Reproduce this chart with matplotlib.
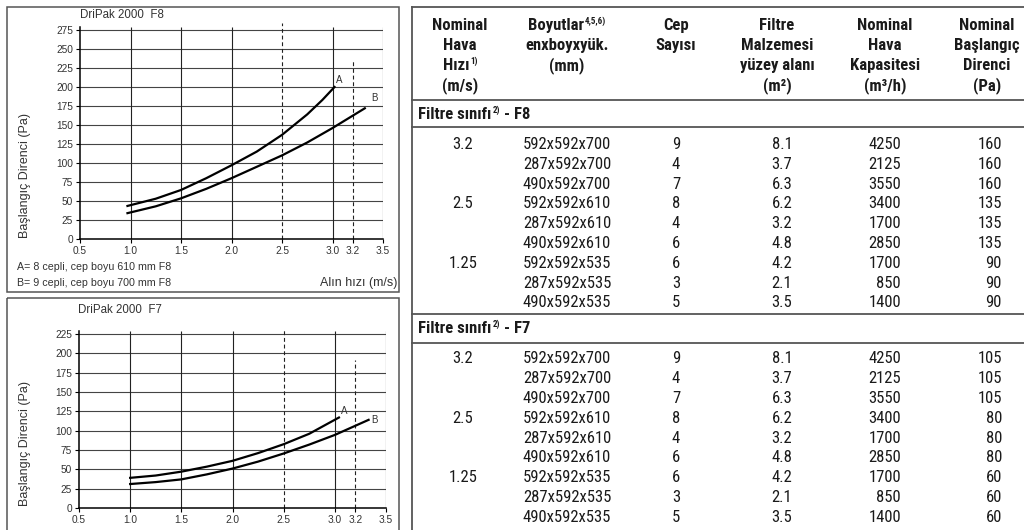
import matplotlib
matplotlib.use("Agg")
import matplotlib.pyplot as plt
import matplotlib.font_manager as fm
from matplotlib.patches import Rectangle


W, H = 1024, 530

# --- chart data ---
x_ticks = [0.5, 1.0, 1.5, 2.0, 2.5, 3.0, 3.2, 3.5]
x_tick_labels = ["0.5", "1.0", "1.5", "2.0", "2.5", "3.0", "3.2", "3.5"]

f8_yticks = list(range(0, 276, 25))
f8_a_x = [0.97, 1.25, 1.5, 1.75, 2.0, 2.25, 2.5, 2.75, 2.9, 3.02]
f8_a_y = [43.5, 53, 64.5, 80, 97, 115, 137, 164, 183, 200]
f8_b_x = [0.97, 1.25, 1.5, 1.75, 2.0, 2.25, 2.5, 2.75, 3.0, 3.32]
f8_b_y = [34, 43, 53.5, 66, 80, 95, 110, 127, 146, 172]

f7_yticks = list(range(0, 226, 25))
f7_a_x = [1.0, 1.25, 1.5, 1.75, 2.0, 2.25, 2.5, 2.75, 3.04]
f7_a_y = [39, 42, 47, 53.5, 61, 71, 82.5, 96, 117]
f7_b_x = [1.0, 1.25, 1.5, 1.75, 2.0, 2.25, 2.5, 2.75, 3.0, 3.33]
f7_b_y = [31, 33.5, 37, 43.5, 51, 60, 70.5, 82, 94.5, 114]

# --- table data ---
# (text, superscript) per header line
headers = [
    [("Nominal", ""), ("Hava", ""), ("Hızı", "1)"), ("(m/s)", "")],
    [("Boyutlar", "4,5,6)"), ("enxboyxyük.", ""), ("(mm)", "")],
    [("Cep", ""), ("Sayısı", "")],
    [("Filtre", ""), ("Malzemesi", ""), ("yüzey alanı", ""), ("(m²)", "")],
    [("Nominal", ""), ("Hava", ""), ("Kapasitesi", ""), ("(m³/h)", "")],
    [("Nominal", ""), ("Başlangıç", ""), ("Direnci", ""), ("(Pa)", "")],
]
hiz = ["3.2", "", "", "2.5", "", "", "1.25", "", ""]
boyut = ["592x592x700", "287x592x700", "490x592x700",
         "592x592x610", "287x592x610", "490x592x610",
         "592x592x535", "287x592x535", "490x592x535"]
cep = [9, 4, 7, 8, 4, 6, 6, 3, 5]
alan = [8.1, 3.7, 6.3, 6.2, 3.2, 4.8, 4.2, 2.1, 3.5]
kapasite = [4250, 2125, 3550, 3400, 1700, 2850, 1700, 850, 1400]
direnc_f8 = [160, 160, 160, 135, 135, 135, 90, 90, 90]
direnc_f7 = [105, 105, 105, 80, 80, 80, 60, 60, 60]


def pick_narrow():
    # look for a condensed sans face for the table
    entries = fm.fontManager.ttflist
    names = {f.name for f in entries}
    for n in ["Liberation Sans Narrow", "Roboto Condensed", "Open Sans Condensed",
              "Noto Sans Condensed", "DejaVu Sans Condensed"]:
        if n in names:
            return n, "normal"
    for f in entries:
        if "condensed" in str(f.stretch) or "Narrow" in f.name or "Condensed" in f.name:
            return f.name, f.stretch
    return "Liberation Sans", "normal"


NARROW, STRETCH = pick_narrow()
plt.rcParams["font.family"] = ["Liberation Sans", "DejaVu Sans"]

TXT = "#333333"
TAB = "#1a1a1a"
LINE = "#555555"


def px_axes(fig, left, top, right, bottom):
    return fig.add_axes([left / W, 1 - bottom / H, (right - left) / W, (bottom - top) / H])


def draw_chart(ax, yticks, ytop, grid_top, d25_top, d32_top, a_xy, b_xy, a_lab, b_lab):
    ax.set_facecolor("none")
    ax.set_xlim(0.5, 3.5)
    ax.set_ylim(0, ytop)
    for s in ["top", "right"]:
        ax.spines[s].set_visible(False)
    ax.spines["left"].set_bounds(0, grid_top)
    ax.spines["left"].set_linewidth(1.1)
    ax.spines["bottom"].set_linewidth(1.1)
    ax.hlines(yticks[1:], 0.5, 3.5, color="#444444", lw=0.8, zorder=1)
    ax.vlines([1.0, 1.5, 2.0, 3.0, 3.5], 0, grid_top, color="#222222", lw=0.8, zorder=1)
    ax.vlines([2.5], 0, d25_top, color="#222222", lw=0.8, linestyle=(0, (3.5, 2.5)), zorder=1, clip_on=False)
    ax.vlines([3.2], 0, d32_top, color="#222222", lw=0.8, linestyle=(0, (3.5, 2.5)), zorder=1)
    ax.plot(a_xy[0], a_xy[1], color="black", lw=1.6, zorder=3)
    ax.plot(b_xy[0], b_xy[1], color="black", lw=1.6, zorder=3)
    ax.text(a_lab[0], a_lab[1], "A", fontsize=7, color=TXT, ha="center", va="center")
    ax.text(b_lab[0], b_lab[1], "B", fontsize=7, color=TXT, ha="center", va="center")
    ax.set_xticks(x_ticks)
    ax.set_xticklabels(x_tick_labels)
    ax.set_yticks(yticks)
    ax.tick_params(direction="out", length=3, width=0.8, labelsize=7.3, labelcolor=TXT, pad=2)


fig = plt.figure(figsize=(W / 100, H / 100), dpi=100)
bg = fig.add_axes([0, 0, 1, 1])
bg.set_xlim(0, W)
bg.set_ylim(H, 0)
bg.axis("off")
renderer = fig.canvas.get_renderer()


def put(x, y, base, sup, ha, props, tail=""):
    # base text + optional small superscript (+ optional tail); ha applies to the whole
    t1 = bg.text(0, y, base, ha="left", va="baseline", **props)
    w1 = t1.get_window_extent(renderer).width
    w2 = 0
    if sup:
        sp = dict(props)
        sp["fontsize"] = 6.5
        t2 = bg.text(0, y - 6.5, sup, ha="left", va="baseline", **sp)
        w2 = t2.get_window_extent(renderer).width + 1
    x0 = x - (w1 + w2) / 2 if ha == "center" else x
    t1.set_x(x0)
    if sup:
        t2.set_x(x0 + w1 + 1)
    if tail:
        bg.text(x0 + w1 + w2 + 4, y, tail, ha="left", va="baseline", **props)


# panel frames
bg.add_patch(Rectangle((7, 7), 392, 285, fill=False, ec=LINE, lw=1.1))
bg.add_patch(Rectangle((7, 298), 392, 250, fill=False, ec=LINE, lw=1.1, clip_on=False))

# top chart F8
ax1 = px_axes(fig, 80, 239 - 285 * 0.76, 383, 239)
draw_chart(ax1, f8_yticks, 285, 279, 284, 235,
           (f8_a_x, f8_a_y), (f8_b_x, f8_b_y), (3.07, 209), (3.42, 186))
bg.text(80, 15, "DriPak 2000  F8", fontsize=8.3, color=TXT, ha="left", va="center")
bg.text(25, 175, "Başlangıç Direnci (Pa)", fontsize=9, color=TXT, rotation=90, ha="center", va="center")
bg.text(17, 267, "A= 8 cepli, cep boyu 610 mm F8", fontsize=7.7, color=TXT, ha="left", va="center")
bg.text(17, 283, "B= 9 cepli, cep boyu 700 mm F8", fontsize=7.7, color=TXT, ha="left", va="center")
bg.text(397, 283, "Alın hızı (m/s)", fontsize=9, color=TXT, ha="right", va="center")

# bottom chart F7
ax2 = px_axes(fig, 79, 508 - 235 * 0.7733, 386, 508)
draw_chart(ax2, f7_yticks, 235, 229, 233, 191,
           (f7_a_x, f7_a_y), (f7_b_x, f7_b_y), (3.09, 126), (3.39, 114))
bg.text(78, 310, "DriPak 2000  F7", fontsize=8.3, color=TXT, ha="left", va="center")
bg.text(25, 444, "Başlangıç Direnci (Pa)", fontsize=9, color=TXT, rotation=90, ha="center", va="center")

# table frame lines
bg.plot([412, W], [7, 7], color=LINE, lw=1.3)
bg.plot([412, 412], [7, H], color=LINE, lw=1.3)
for yy in [100, 127, 314, 343]:
    bg.plot([412, W], [yy, yy], color=LINE, lw=1.3)

bold = dict(family=NARROW, stretch=STRETCH, fontweight="bold", fontsize=12, color=TAB)
reg = dict(family=NARROW, stretch=STRETCH, fontsize=12, color=TAB)

header_x = [460, 567, 676, 777, 885, 987]
for hx, lines in zip(header_x, headers):
    for i, (t, s) in enumerate(lines):
        put(hx, 30 + 20 * i, t, s, "center", bold)

put(418, 119, "Filtre sınıfı", "2)", "left", bold, tail="- F8")
put(418, 333, "Filtre sınıfı", "2)", "left", bold, tail="- F7")

col_x = [463, 567, 676, 782, 901, 1002]
col_ha = ["center", "center", "center", "center", "right", "right"]
for y0, step, direnc in [(149, 19.8, direnc_f8), (363, 19.9, direnc_f7)]:
    for i in range(len(boyut)):
        vals = [hiz[i], boyut[i], str(cep[i]), f"{alan[i]:.1f}", str(kapasite[i]), str(direnc[i])]
        for cx, ha, v in zip(col_x, col_ha, vals):
            if v:
                bg.text(cx, y0 + step * i, v, ha=ha, va="baseline", **reg)

fig.savefig("out.png", dpi=100)
